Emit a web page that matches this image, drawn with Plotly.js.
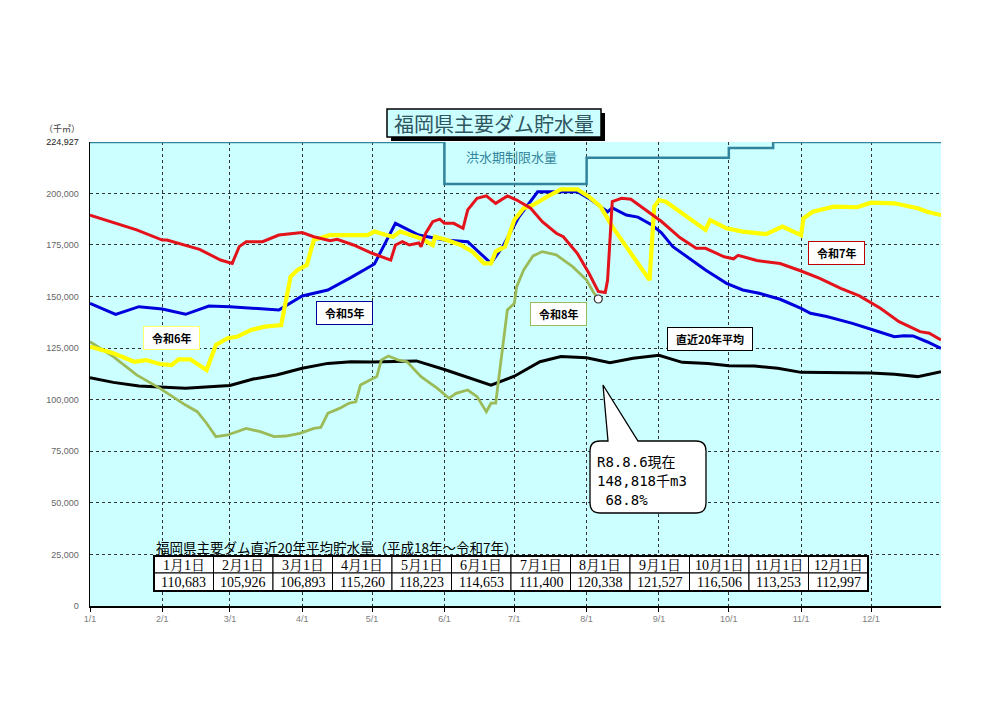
<!DOCTYPE html>
<html><head><meta charset="utf-8">
<script src="https://cdn.plot.ly/plotly-3.0.1.min.js"></script>
<style>html,body{margin:0;padding:0;background:#fff}#chart{width:1000px;height:706px}</style>
</head><body><div id="chart"></div>
<script>
// x = day of year (0 = 1/1), leap-year calendar as in the original chart
const monthStartDay = [0,31,60,91,121,152,182,213,244,274,305,335];
const monthTickText = ['1/1','2/1','3/1','4/1','5/1','6/1','7/1','8/1','9/1','10/1','11/1','12/1'];
const yTickVals = [0,25000,50000,75000,100000,125000,150000,175000,200000,224927];

// 令和5年 (blue)
const r5Day = [0,11,21,31,41,51,60,81,91,102,112,122,131,141,152,162,172,177,184,192,209,214,222,224,230,235,241,245,250,257,264,273,280,287,296,305,309,316,322,327,336,345,349,353,359,365];
const r5Val = [146700,141400,145100,144000,141400,145400,145100,143500,150300,153200,159300,165800,185500,179800,177400,176600,166100,174200,188700,200800,200800,197600,191100,193000,189500,188500,184700,181000,174200,168500,162900,156400,153200,151600,148700,144300,141900,140300,138600,137000,133800,130500,131000,130900,128100,124900];

// 令和6年 (yellow)
const r6Day = [0,10,19,24,30,35,38,43,50,54,59,63,69,75,82,86,89,93,96,103,119,122,127,130,133,137,142,147,148,153,159,164,169,172,174,178,182,186,190,196,202,209,214,219,224,230,236,240,242,244,247,254,264,266,273,280,290,297,305,306,310,319,329,335,345,355,359,365];
const r6Val = [125700,122500,118400,119200,117300,116800,119600,119600,114400,126500,129800,130500,133800,135400,136200,159600,162900,165300,177400,179800,179800,181500,179800,179000,181500,179800,178200,175000,179000,177400,175000,171800,166100,166100,171800,174200,187100,192800,194400,198400,202000,202000,198400,193600,183900,174200,164500,158000,193600,196800,196000,190400,182300,187100,183100,181500,180300,183900,179800,187900,191100,193600,193300,195500,195200,192800,191100,189500];

// 令和7年 (red)
const r7Day = [0,20,31,33,47,56,61,64,67,74,81,86,91,96,103,106,113,121,129,131,134,137,141,142,144,147,150,152,156,160,162,166,170,174,179,183,189,194,200,203,209,214,218,221,222,224,228,232,239,245,253,260,264,272,276,278,286,296,305,313,322,330,339,347,356,360,365];
const r7Val = [189500,182300,177400,177400,172900,167700,166100,174200,176600,176600,179800,180300,181000,179000,177100,177800,175000,171000,167700,175000,176600,175000,176000,174200,180700,186300,187500,185500,185500,183100,192000,197600,198800,195200,198800,196800,192800,186300,180700,179000,171000,161300,152500,152000,158000,196000,197600,197200,191500,186500,178600,173400,173400,169300,168300,170000,167500,166000,162400,158800,154000,150300,144300,137800,133000,132200,129000];

// 令和8年 (green, current year)
const r8Day = [0,10,20,30,41,46,50,54,59,63,67,73,79,84,90,96,99,102,107,111,114,116,120,123,125,128,132,136,142,149,154,157,162,166,170,172,174,177,179,182,183,186,190,194,200,207,213,216,218];
const r8Val = [128100,120900,112000,105500,97400,94200,88600,82100,82900,84500,86100,84500,82100,82400,83700,86100,86600,93400,95800,98300,99000,107100,109600,111200,119300,121200,119300,118400,111200,105500,100700,103100,104700,101500,94200,98300,98300,125700,143500,146700,154800,162900,169700,171800,170200,164500,158000,152000,148818];

// 直近20年平均 (black)
const avgDay = [0,10,21,31,41,60,70,80,91,102,112,121,140,152,172,182,193,202,213,223,233,244,254,265,274,285,295,305,316,335,345,355,365];
const avgVal = [110683,108400,106600,105926,105500,106893,110000,112000,115260,117600,118400,118223,118800,114653,107100,111400,118400,120900,120338,117900,120100,121527,118100,117600,116506,116300,115200,113253,113100,112997,112300,111200,113600];

// 洪水期制限水量 (step line)
const floodDay = [0,152,213,274,293,365];
const floodVal = [224927,204600,217300,222000,224927,224927];

// table
const tableMonths = ['1月1日','2月1日','3月1日','4月1日','5月1日','6月1日','7月1日','8月1日','9月1日','10月1日','11月1日','12月1日'];
const tableAvg = [110683,105926,106893,115260,118223,114653,111400,120338,121527,116506,113253,112997];

const calloutLines = ['R8.8.6現在','148,818千m3','\u00a068.8%'];

// ---- geometry helpers (pixel -> paper) ----
const PL=90, PR=941, PT=142, PB=606;
const px = x => (x-PL)/(PR-PL);
const py = y => (PB-y)/(PB-PT);

const fmt = v => v.toLocaleString('en-US');
const JP = '"Noto Sans CJK JP", "Noto Sans", sans-serif';
const SERIF = '"Liberation Serif", "Noto Serif CJK JP", "Noto Sans CJK JP", serif';

const traces = [
  {x:floodDay,y:floodVal,mode:'lines',line:{color:'#31849B',width:2.5,shape:'hv'},hoverinfo:'skip'},
  {x:avgDay,y:avgVal,mode:'lines',line:{color:'#000000',width:3}},
  {x:r8Day,y:r8Val,mode:'lines',line:{color:'#9BBB59',width:2.8}},
  {x:r5Day,y:r5Val,mode:'lines',line:{color:'#0000DD',width:3}},
  {x:r6Day,y:r6Val,mode:'lines',line:{color:'#FFFF00',width:4.2}},
  {x:r7Day,y:r7Val,mode:'lines',line:{color:'#E3121B',width:3}},
  {x:[r8Day[r8Day.length-1]],y:[r8Val[r8Val.length-1]],mode:'markers',
   marker:{color:'#FFFFFF',size:8,line:{color:'#333333',width:1.2}},cliponaxis:false}
];

const shapes = [];
const annotations = [];
const note = (o)=>annotations.push(Object.assign({xref:'paper',yref:'paper',xanchor:'center',yanchor:'middle',showarrow:false},o));

// title box with shadow
shapes.push({type:'rect',xref:'paper',yref:'paper',x0:px(391),x1:px(605),y0:py(141),y1:py(113),fillcolor:'#000',line:{width:0}});
shapes.push({type:'rect',xref:'paper',yref:'paper',x0:px(387),x1:px(601),y0:py(137),y1:py(109),fillcolor:'#CCFFFF',line:{color:'#000',width:1.5}});
note({x:px(494),y:py(123.5),text:'福岡県主要ダム貯水量',font:{family:JP,size:20,color:'#2F5560'}});

// unit label
note({x:px(62),y:py(128),text:'（千㎥）',font:{family:JP,size:9,color:'#404040'}});

// flood label
note({x:px(511),y:py(156),text:'洪水期制限水量',font:{family:JP,size:13,color:'#31849B'}});

// series labels
const lab = (x,y,t,bc)=>annotations.push({x:x,y:y,xref:'x',yref:'y',xanchor:'center',yanchor:'middle',text:t,showarrow:false,
  bgcolor:'#FFFFFF',bordercolor:bc,borderwidth:1,borderpad:3,
  font:{family:JP,size:11,color:'#000',weight:'bold'}});
lab(35,129900,'\u00a0\u00a0令和6年\u00a0\u00a0','#FFFF66');
lab(109,142000,'\u00a0\u00a0令和5年\u00a0\u00a0','#000099');
lab(201,141500,'\u00a0\u00a0令和8年\u00a0\u00a0','#9BBB59');
lab(320,171100,'\u00a0\u00a0令和7年\u00a0\u00a0','#C00000');
lab(266,129400,'\u00a0\u00a0直近20年平均\u00a0\u00a0','#000000');

// callout bubble
const pt = p => px(p[0]).toFixed(5)+','+py(p[1]).toFixed(5);
const bubble = 'M '+pt([600,441])+' L '+pt([608,441])+' L '+pt([603,385])+' L '+pt([638,441])+
  ' L '+pt([696,441])+' Q '+pt([706,441])+' '+pt([706,451])+' L '+pt([706,503])+' Q '+pt([706,513])+' '+pt([696,513])+
  ' L '+pt([600,513])+' Q '+pt([590,513])+' '+pt([590,503])+' L '+pt([590,451])+' Q '+pt([590,441])+' '+pt([600,441])+' Z';
shapes.push({type:'path',xref:'paper',yref:'paper',path:bubble,fillcolor:'#FFFFFF',line:{color:'#000',width:1.3}});
const cy=[462,481,500];
calloutLines.forEach((t,i)=>note({x:px(595),y:py(cy[i]),xanchor:'left',
  text:t,font:{family:'"DejaVu Sans Mono", "Noto Sans CJK JP", monospace',size:14,color:'#000'}}));

// table
note({x:px(154),y:py(547),xanchor:'left',
  text:'福岡県主要ダム直近20年平均貯水量（平成18年～令和7年）',
  font:{family:JP,size:13.5,color:'#000'}});
const tx0=154, tx1=868, ty0=556, ty1=573, ty2=591;
const cw=(tx1-tx0)/tableMonths.length;
tableMonths.forEach((m,i)=>{
  const a=tx0+i*cw, b=a+cw;
  shapes.push({type:'rect',xref:'paper',yref:'paper',x0:px(a),x1:px(b),y0:py(ty1),y1:py(ty0),fillcolor:'#FFFFFF',line:{color:'#000',width:1}});
  shapes.push({type:'rect',xref:'paper',yref:'paper',x0:px(a),x1:px(b),y0:py(ty2),y1:py(ty1),fillcolor:'#FFFFFF',line:{color:'#000',width:1}});
  note({x:px((a+b)/2),y:py((ty0+ty1)/2+0.5),text:m,font:{family:SERIF,size:14,color:'#000'}});
  note({x:px((a+b)/2),y:py((ty1+ty2)/2+0.5),text:fmt(tableAvg[i]),font:{family:SERIF,size:14,color:'#000'}});
});
shapes.push({type:'rect',xref:'paper',yref:'paper',x0:px(tx0),x1:px(tx1),y0:py(ty2),y1:py(ty0),line:{color:'#000',width:2}});

const yTickText = yTickVals.map(v=> v===224927 ? '<span style="color:#222">'+fmt(v)+'</span>' : fmt(v));

const layout = {
  width:1000,height:706,
  margin:{l:PL,r:1000-PR,t:PT,b:706-PB,pad:0},
  paper_bgcolor:'#FFFFFF',plot_bgcolor:'#CCFFFF',
  showlegend:false,
  font:{family:'"Liberation Sans", Arial, sans-serif'},
  xaxis:{range:[0,365],tickmode:'array',tickvals:monthStartDay,ticktext:monthTickText,
    showgrid:true,gridcolor:'#333333',griddash:'dot',gridwidth:1,
    showline:true,linecolor:'#000',linewidth:1.5,ticks:'outside',ticklen:4,tickcolor:'#000',
    tickfont:{size:9,color:'#808080'},zeroline:false,fixedrange:true},
  yaxis:{range:[0,224927],tickmode:'array',tickvals:yTickVals,ticktext:yTickText,
    showgrid:true,gridcolor:'#333333',griddash:'dot',gridwidth:1,
    showline:true,linecolor:'#000',linewidth:1.5,ticks:'',ticklabelstandoff:8,
    tickfont:{size:9,color:'#666666'},zeroline:false,fixedrange:true},
  shapes:shapes,annotations:annotations
};
Plotly.newPlot('chart',traces,layout,{displayModeBar:false,staticPlot:true});
</script></body></html>
